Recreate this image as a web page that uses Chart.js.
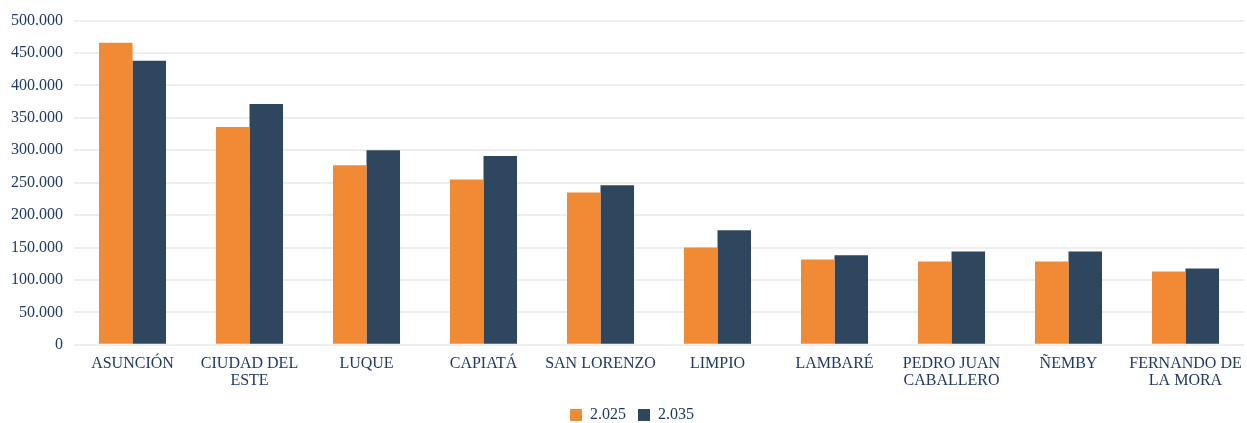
<!DOCTYPE html>
<html>
<head>
<meta charset="utf-8">
<script src="https://cdn.jsdelivr.net/npm/chart.js@4"></script>
<style>
  html, body { margin: 0; padding: 0; background: #fff; }
  #wrap { width: 1247px; height: 423px; }
</style>
</head>
<body>
<div id="wrap"><canvas id="chart"></canvas></div>
<script>
const categories = [
  "ASUNCIÓN",
  ["CIUDAD DEL", "ESTE"],
  "LUQUE",
  "CAPIATÁ",
  "SAN LORENZO",
  "LIMPIO",
  "LAMBARÉ",
  ["PEDRO JUAN", "CABALLERO"],
  "ÑEMBY",
  ["FERNANDO DE", "LA MORA"],
];
const seriesNames = ["2.025", "2.035"];
const values2025 = [466000, 336000, 277000, 255000, 235000, 150000, 131500, 128500, 128500, 113000];
const values2035 = [438000, 371500, 300000, 291000, 246000, 176500, 138000, 144000, 144000, 117500];

// numbers with dot as thousands separator, like the original
function fmt(v) {
  return String(Math.round(v)).replace(/\B(?=(\d{3})+(?!\d))/g, ".");
}

const textColor = "#1F3864";
Chart.defaults.font.family = "'Liberation Serif', 'Times New Roman', serif";
Chart.defaults.font.size = 16;
Chart.defaults.color = textColor;

// legend sits lower in the original: shrink its box and draw it a bit further down
const legendShift = {
  id: "legendShift",
  beforeInit(chart) {
    const legend = chart.legend;
    const fit = legend.fit;
    legend.fit = function () {
      fit.call(this);
      this.height -= 7;
    };
    const draw = legend.draw;
    legend.draw = function () {
      const c = this.ctx;
      c.save();
      c.translate(10, 3);
      draw.call(this);
      c.restore();
    };
  },
};

const ctx = document.getElementById("chart").getContext("2d");
new Chart(ctx, {
  type: "bar",
  data: {
    labels: categories,
    datasets: [
      {
        label: seriesNames[0],
        data: values2025,
        backgroundColor: "#F08A34",
        categoryPercentage: 0.573,
        barPercentage: 1,
      },
      {
        label: seriesNames[1],
        data: values2035,
        backgroundColor: "#2E465E",
        categoryPercentage: 0.573,
        barPercentage: 1,
      },
    ],
  },
  options: {
    responsive: true,
    maintainAspectRatio: false,
    animation: false,
    layout: { padding: { top: 10, right: 3, left: 0, bottom: 0 } },
    plugins: {
      tooltip: { enabled: false },
      legend: {
        position: "bottom",
        labels: {
          boxWidth: 12,
          boxHeight: 12,
          padding: 12,
          font: { size: 16 },
        },
      },
    },
    scales: {
      x: {
        grid: { display: false },
        border: { display: false },
        ticks: { maxRotation: 0, autoSkip: false, padding: 2, font: { lineHeight: 1.1 } },
      },
      y: {
        min: 0,
        max: 500000,
        border: { display: false },
        grid: { color: "#EEEEEE", lineWidth: 2, drawTicks: false },
        ticks: { stepSize: 50000, padding: 11, callback: (v) => fmt(v) },
      },
    },
  },
  plugins: [legendShift],
});
</script>
</body>
</html>
